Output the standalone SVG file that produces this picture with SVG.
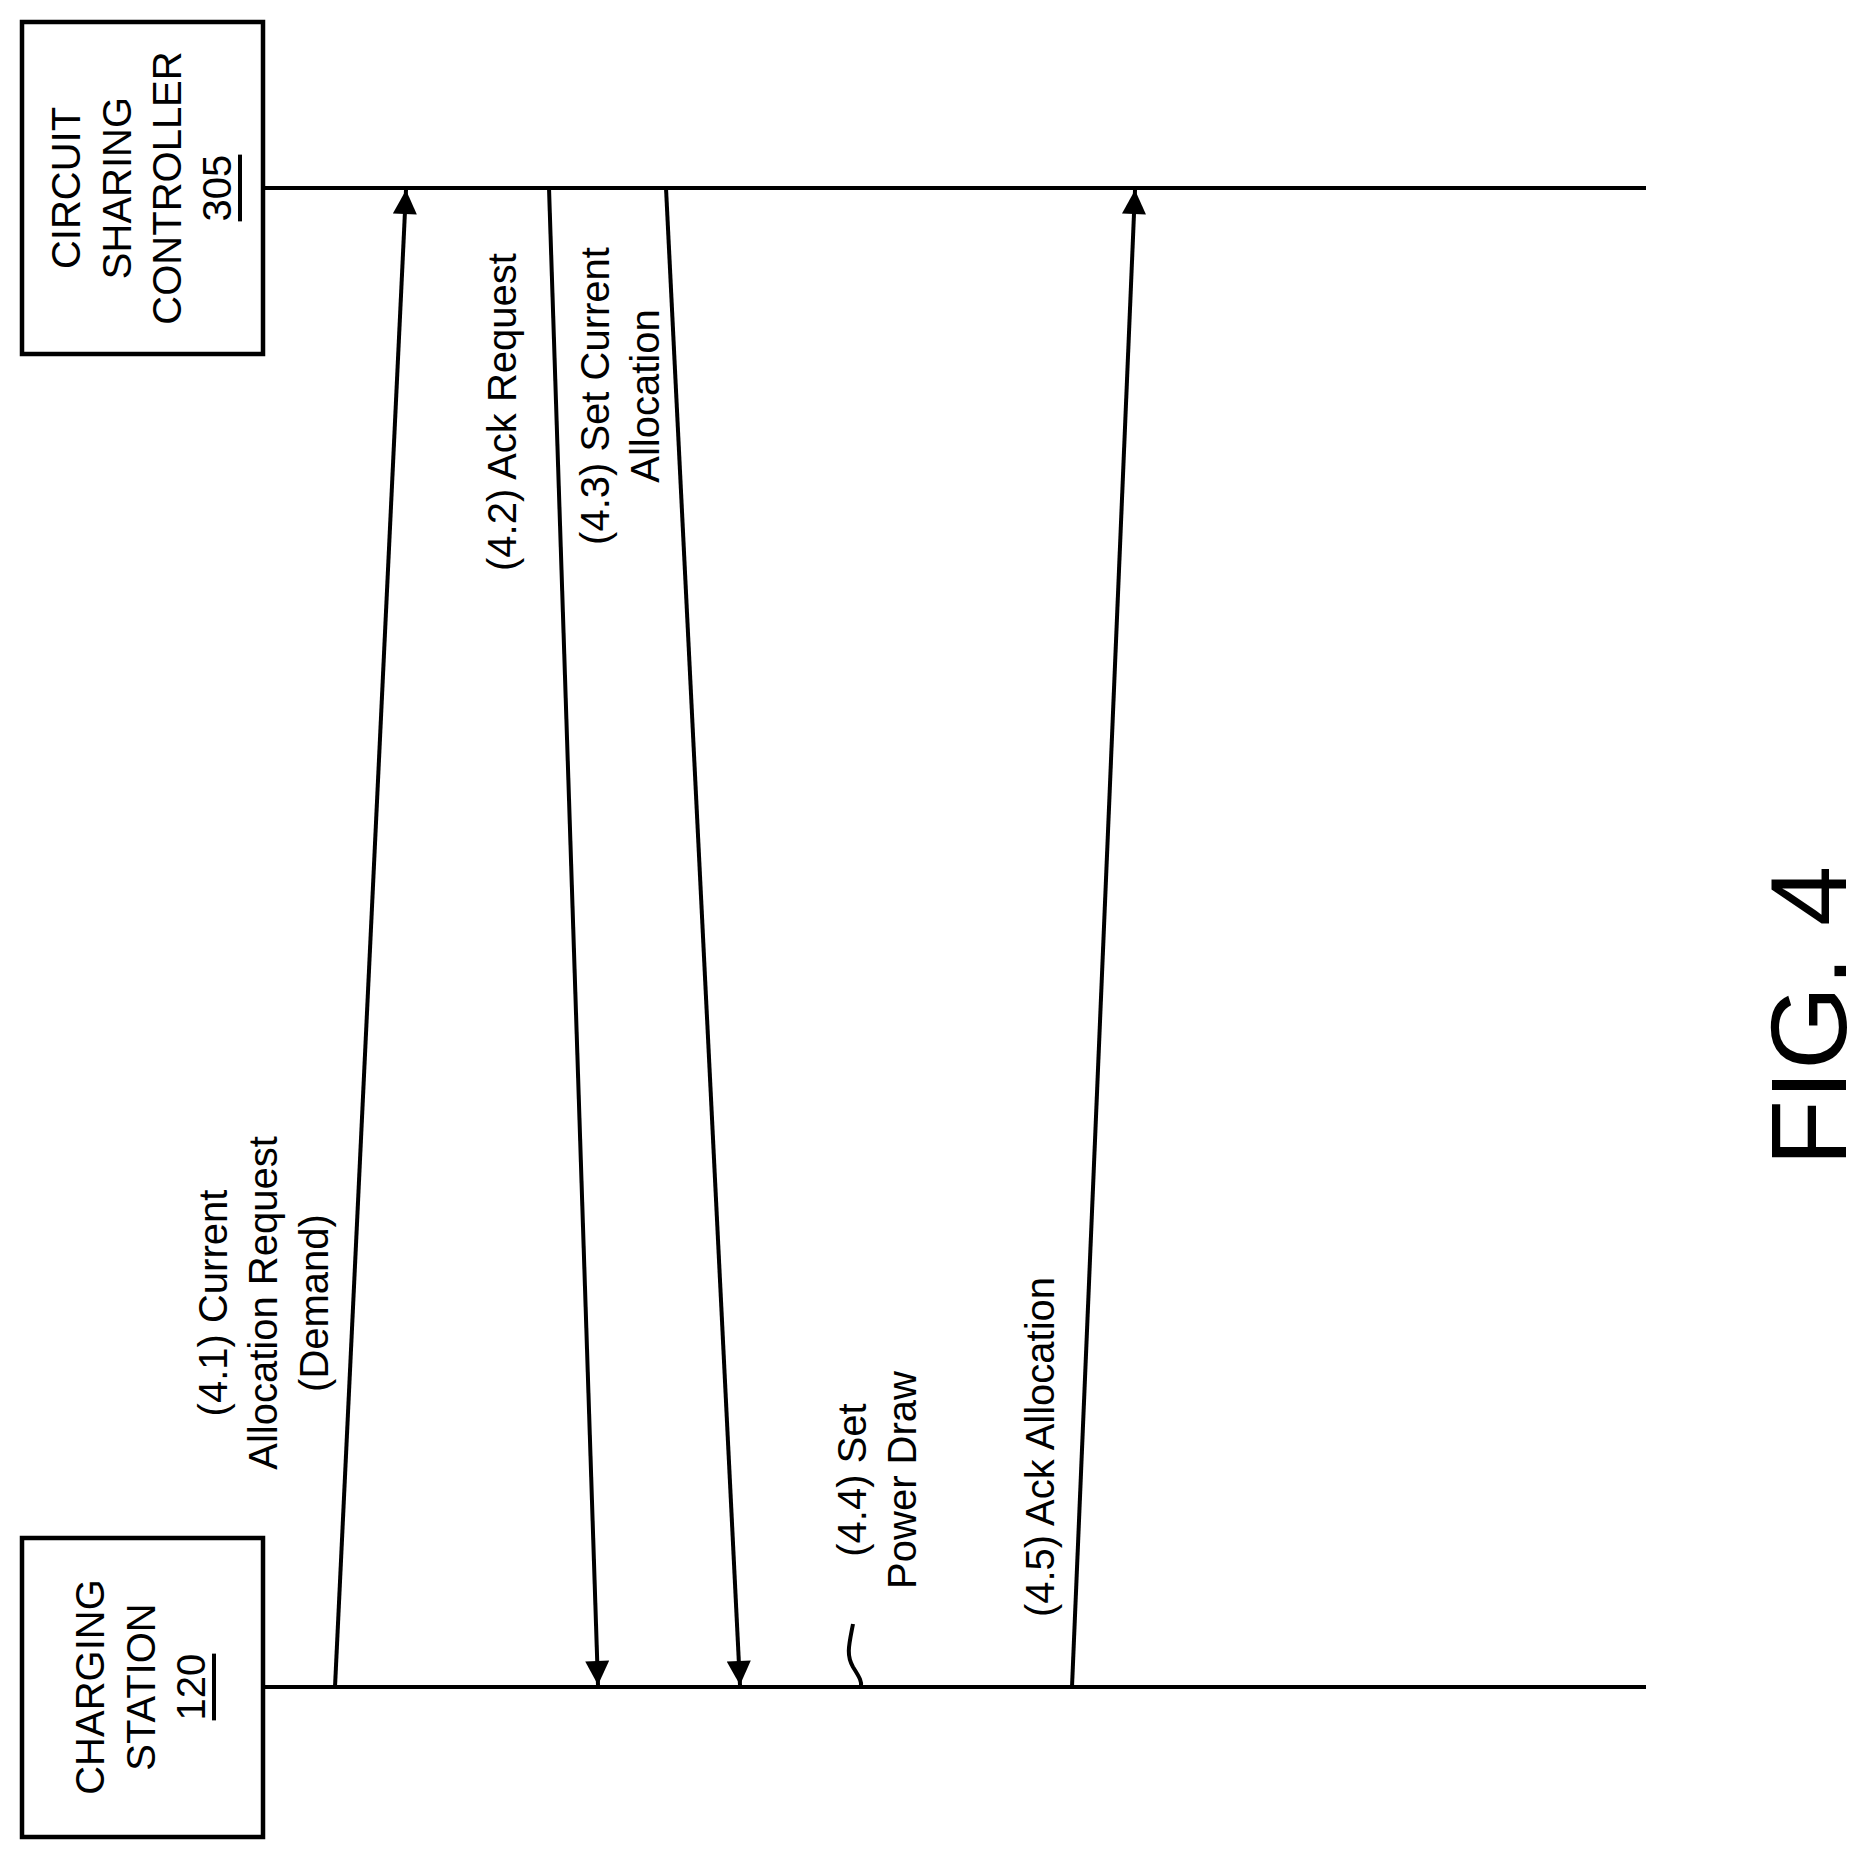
<svg xmlns="http://www.w3.org/2000/svg" width="1874" height="1861" viewBox="0 0 1874 1861">
<style>
text{font-family:"Liberation Sans",Arial,sans-serif;font-size:40px;fill:#000;text-anchor:middle;dominant-baseline:central}
.box{fill:#fff;stroke:#000;stroke-width:4.5}
.ln{stroke:#000;stroke-width:4;fill:none}
</style>
<defs>
<marker id="ah" viewBox="0 0 10 10" refX="10" refY="5" markerWidth="6.5" markerHeight="6" markerUnits="strokeWidth" orient="auto"><path d="M0,0L10,5L0,10z" fill="#000"/></marker>
</defs>
<rect width="1874" height="1861" fill="#fff"/>
<g id="lifelines">
<line class="ln" x1="263" y1="188" x2="1646" y2="188"/>
<line class="ln" x1="263" y1="1687" x2="1646" y2="1687"/>
</g>
<g id="controller">
<rect class="box" x="22" y="22" width="241" height="332"/>
<g transform="rotate(-90 0 0)">
<text x="-188" y="66">CIRCUIT</text>
<text x="-188" y="117">SHARING</text>
<text x="-188" y="167">CONTROLLER</text>
<text x="-188" y="217" text-decoration="underline">305</text>
</g>
</g>
<g id="station">
<rect class="box" x="22" y="1538" width="241" height="299"/>
<g transform="rotate(-90 0 0)">
<text x="-1687" y="90">CHARGING</text>
<text x="-1687" y="141">STATION</text>
<text x="-1687" y="191" text-decoration="underline">120</text>
</g>
</g>
<g id="connectors">
<line class="ln" x1="335" y1="1687" x2="406" y2="190" marker-end="url(#ah)"/>
<line class="ln" x1="549" y1="188" x2="598" y2="1685" marker-end="url(#ah)"/>
<line class="ln" x1="666" y1="188" x2="740" y2="1685" marker-end="url(#ah)"/>
<line class="ln" x1="1072" y1="1687" x2="1135" y2="190" marker-end="url(#ah)"/>
<path class="ln" d="M853,1624 C849,1645 846,1655 853,1667 C860,1678 862,1682 861,1687"/>
</g>
<g id="labels" transform="rotate(-90 0 0)">
<text x="-1303" y="213">(4.1) Current</text>
<text x="-1303" y="263">Allocation Request</text>
<text x="-1303" y="314">(Demand)</text>
<text x="-412" y="502">(4.2) Ack Request</text>
<text x="-396" y="595">(4.3) Set Current</text>
<text x="-396" y="645">Allocation</text>
<text x="-1480" y="852">(4.4) Set</text>
<text x="-1480" y="902">Power Draw</text>
<text x="-1447" y="1040">(4.5) Ack Allocation</text>
<text x="-1016" y="1808" style="font-size:108px">FIG. 4</text>
</g>
</svg>
